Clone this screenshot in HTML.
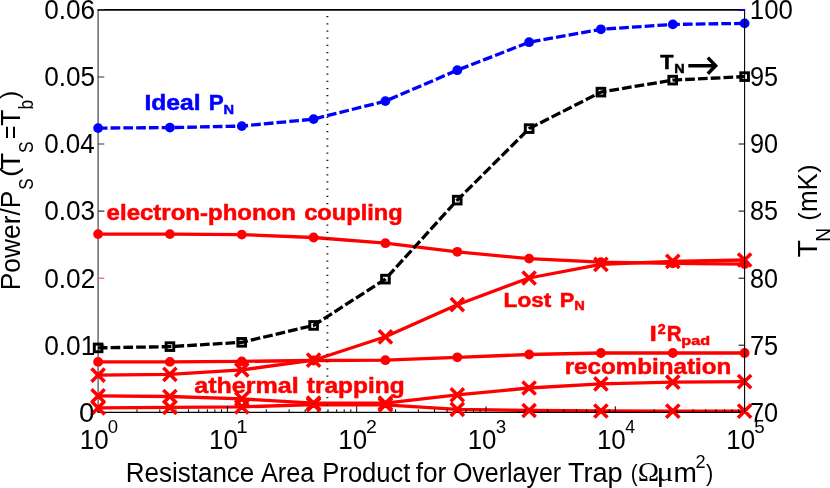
<!DOCTYPE html>
<html><head><meta charset="utf-8"><title>chart</title>
<style>html,body{margin:0;padding:0;background:#fff;overflow:hidden}svg{display:block;will-change:transform}text{font-family:"Liberation Sans",sans-serif}</style>
</head><body>
<svg width="830" height="488" viewBox="0 0 830 488">
<rect width="830" height="488" fill="#fff"/>
<polyline points="98.1,128.1 169.9,127.6 241.8,126.1 313.6,119.1 385.4,101.1 457.3,70.2 529.1,42.2 600.9,29.3 672.8,24.4 744.6,23.4" fill="none" stroke="#0000ff" stroke-width="3.3" stroke-linejoin="round" stroke-dasharray="9.7 3.08" stroke-dashoffset="0.3"/>
<polyline points="98.1,234.1 169.9,234.1 241.8,234.6 313.6,237.5 385.4,243.2 457.3,251.8 529.1,258.6 600.9,262.2 672.8,263.3 744.6,264.1" fill="none" stroke="#ff0000" stroke-width="3.3" stroke-linejoin="round"/>
<polyline points="98.1,361.9 169.9,361.9 241.8,361.4 313.6,360.5 385.4,360.2 457.3,357.3 529.1,354.5 600.9,353.0 672.8,353.0 744.6,353.0" fill="none" stroke="#ff0000" stroke-width="3.3" stroke-linejoin="round"/>
<polyline points="98.1,395.8 169.9,396.5 241.8,398.9 313.6,403.2 385.4,403.1 457.3,394.8 529.1,388.0 600.9,383.8 672.8,382.2 744.6,381.7" fill="none" stroke="#ff0000" stroke-width="3.3" stroke-linejoin="round"/>
<polyline points="98.1,407.9 169.9,407.4 241.8,406.9 313.6,404.6 385.4,404.9 457.3,409.3 529.1,410.5 600.9,411.0 672.8,411.1 744.6,411.1" fill="none" stroke="#ff0000" stroke-width="3.3" stroke-linejoin="round"/>
<polyline points="98.1,375.2 169.9,374.3 241.8,369.9 313.6,360.2 385.4,336.8 457.3,304.7 529.1,278.0 600.9,264.4 672.8,261.3 744.6,260.0" fill="none" stroke="#ff0000" stroke-width="3.3" stroke-linejoin="round"/>
<line x1="98.1" y1="9.9" x2="98.1" y2="412.3" stroke="#606060" stroke-width="1.4"/>
<line x1="97.5" y1="9.9" x2="745.1" y2="9.9" stroke="#000" stroke-width="1.8"/>
<line x1="97.5" y1="412.3" x2="745.1" y2="412.3" stroke="#000" stroke-width="1.2"/>
<path d="M98.1,412.3V406.3M137.0,412.3V409.3M159.8,412.3V409.3M175.9,412.3V409.3M188.5,412.3V409.3M198.7,412.3V409.3M207.4,412.3V409.3M214.9,412.3V409.3M221.5,412.3V409.3M227.4,412.3V406.3M266.3,412.3V409.3M289.1,412.3V409.3M305.2,412.3V409.3M317.8,412.3V409.3M328.0,412.3V409.3M336.7,412.3V409.3M344.2,412.3V409.3M350.8,412.3V409.3M356.7,412.3V406.3M395.6,412.3V409.3M418.4,412.3V409.3M434.5,412.3V409.3M447.1,412.3V409.3M457.3,412.3V409.3M466.0,412.3V409.3M473.5,412.3V409.3M480.1,412.3V409.3M486.0,412.3V406.3M524.9,412.3V409.3M547.7,412.3V409.3M563.8,412.3V409.3M576.4,412.3V409.3M586.6,412.3V409.3M595.3,412.3V409.3M602.8,412.3V409.3M609.4,412.3V409.3M615.3,412.3V406.3M654.2,412.3V409.3M677.0,412.3V409.3M693.1,412.3V409.3M705.7,412.3V409.3M715.9,412.3V409.3M724.6,412.3V409.3M732.1,412.3V409.3M738.7,412.3V409.3M744.6,412.3V406.3" stroke="#000" stroke-width="1" fill="none"/>
<path d="M98.1,412.3h6.2M98.1,345.2h6.2M98.1,211.1h6.2M98.1,144.0h6.2M98.1,77.0h6.2M98.1,9.9h6.2" stroke="#333" stroke-width="1.1" fill="none"/>
<path d="M98.69999999999999,278.2h5.6" stroke="#ff4040" stroke-width="1.1" fill="none"/>
<path d="M744.6,412.3h-6M744.6,345.2h-6M744.6,278.2h-6M744.6,211.1h-6M744.6,144.0h-6M744.6,77.0h-6M744.6,9.9h-6" stroke="#000" stroke-width="1" fill="none"/>
<line x1="327.4" y1="9.9" x2="327.4" y2="412.3" stroke="#1a1a1a" stroke-width="1.9" stroke-dasharray="1.25 5.937" stroke-dashoffset="-6.15"/>
<circle cx="98.1" cy="128.1" r="4.9" fill="#0000ff"/>
<circle cx="169.9" cy="127.6" r="4.9" fill="#0000ff"/>
<circle cx="241.8" cy="126.1" r="4.9" fill="#0000ff"/>
<circle cx="313.6" cy="119.1" r="4.9" fill="#0000ff"/>
<circle cx="385.4" cy="101.1" r="4.9" fill="#0000ff"/>
<circle cx="457.3" cy="70.2" r="4.9" fill="#0000ff"/>
<circle cx="529.1" cy="42.2" r="4.9" fill="#0000ff"/>
<circle cx="600.9" cy="29.3" r="4.9" fill="#0000ff"/>
<circle cx="672.8" cy="24.4" r="4.9" fill="#0000ff"/>
<circle cx="744.6" cy="23.4" r="4.9" fill="#0000ff"/>
<circle cx="98.1" cy="234.1" r="4.9" fill="#ff0000"/>
<circle cx="169.9" cy="234.1" r="4.9" fill="#ff0000"/>
<circle cx="241.8" cy="234.6" r="4.9" fill="#ff0000"/>
<circle cx="313.6" cy="237.5" r="4.9" fill="#ff0000"/>
<circle cx="385.4" cy="243.2" r="4.9" fill="#ff0000"/>
<circle cx="457.3" cy="251.8" r="4.9" fill="#ff0000"/>
<circle cx="529.1" cy="258.6" r="4.9" fill="#ff0000"/>
<circle cx="600.9" cy="262.2" r="4.9" fill="#ff0000"/>
<circle cx="672.8" cy="263.3" r="4.9" fill="#ff0000"/>
<circle cx="744.6" cy="264.1" r="4.9" fill="#ff0000"/>
<circle cx="98.1" cy="361.9" r="4.9" fill="#ff0000"/>
<circle cx="169.9" cy="361.9" r="4.9" fill="#ff0000"/>
<circle cx="241.8" cy="361.4" r="4.9" fill="#ff0000"/>
<circle cx="313.6" cy="360.5" r="4.9" fill="#ff0000"/>
<circle cx="385.4" cy="360.2" r="4.9" fill="#ff0000"/>
<circle cx="457.3" cy="357.3" r="4.9" fill="#ff0000"/>
<circle cx="529.1" cy="354.5" r="4.9" fill="#ff0000"/>
<circle cx="600.9" cy="353.0" r="4.9" fill="#ff0000"/>
<circle cx="672.8" cy="353.0" r="4.9" fill="#ff0000"/>
<circle cx="744.6" cy="353.0" r="4.9" fill="#ff0000"/>
<path d="M91.5,389.2L104.7,402.4M91.5,402.4L104.7,389.2M163.3,389.9L176.5,403.1M163.3,403.1L176.5,389.9M235.2,392.3L248.4,405.5M235.2,405.5L248.4,392.3M307.0,396.6L320.2,409.8M307.0,409.8L320.2,396.6M378.8,396.5L392.0,409.7M378.8,409.7L392.0,396.5M450.7,388.2L463.9,401.4M450.7,401.4L463.9,388.2M522.5,381.4L535.7,394.6M522.5,394.6L535.7,381.4M594.3,377.2L607.5,390.4M594.3,390.4L607.5,377.2M666.2,375.6L679.4,388.8M666.2,388.8L679.4,375.6M738.0,375.1L751.2,388.3M738.0,388.3L751.2,375.1" stroke="#ff0000" stroke-width="3.5" fill="none"/>
<path d="M91.5,401.3L104.7,414.5M91.5,414.5L104.7,401.3M163.3,400.8L176.5,414.0M163.3,414.0L176.5,400.8M235.2,400.3L248.4,413.5M235.2,413.5L248.4,400.3M307.0,398.0L320.2,411.2M307.0,411.2L320.2,398.0M378.8,398.3L392.0,411.5M378.8,411.5L392.0,398.3M450.7,402.7L463.9,415.9M450.7,415.9L463.9,402.7M522.5,403.9L535.7,417.1M522.5,417.1L535.7,403.9M594.3,404.4L607.5,417.6M594.3,417.6L607.5,404.4M666.2,404.5L679.4,417.7M666.2,417.7L679.4,404.5M738.0,404.5L751.2,417.7M738.0,417.7L751.2,404.5" stroke="#ff0000" stroke-width="3.5" fill="none"/>
<path d="M91.5,368.6L104.7,381.8M91.5,381.8L104.7,368.6M163.3,367.7L176.5,380.9M163.3,380.9L176.5,367.7M235.2,363.3L248.4,376.5M235.2,376.5L248.4,363.3M307.0,353.6L320.2,366.8M307.0,366.8L320.2,353.6M378.8,330.2L392.0,343.4M378.8,343.4L392.0,330.2M450.7,298.1L463.9,311.3M450.7,311.3L463.9,298.1M522.5,271.4L535.7,284.6M522.5,284.6L535.7,271.4M594.3,257.8L607.5,271.0M594.3,271.0L607.5,257.8M666.2,254.7L679.4,267.9M666.2,267.9L679.4,254.7M738.0,253.4L751.2,266.6M738.0,266.6L751.2,253.4" stroke="#ff0000" stroke-width="3.5" fill="none"/>
<polyline points="98.1,347.9 169.9,346.6 241.8,342.3 313.6,325.4 385.4,279.1 457.3,200.1 529.1,128.6 600.9,92.1 672.8,80.1 744.6,76.6" fill="none" stroke="#000000" stroke-width="3.3" stroke-linejoin="round" stroke-dasharray="9.7 3.08" stroke-dashoffset="0.3"/>
<line x1="744.6" y1="9.9" x2="744.6" y2="412.3" stroke="#000" stroke-width="1.1"/>
<line x1="738.1" y1="9.9" x2="745.1" y2="9.9" stroke="#0000d0" stroke-width="1.8"/>
<rect x="94.3" y="344.1" width="7.65" height="7.65" fill="none" stroke="#000000" stroke-width="2.95"/>
<rect x="166.1" y="342.8" width="7.65" height="7.65" fill="none" stroke="#000000" stroke-width="2.95"/>
<rect x="237.9" y="338.5" width="7.65" height="7.65" fill="none" stroke="#000000" stroke-width="2.95"/>
<rect x="309.8" y="321.6" width="7.65" height="7.65" fill="none" stroke="#000000" stroke-width="2.95"/>
<rect x="381.6" y="275.3" width="7.65" height="7.65" fill="none" stroke="#000000" stroke-width="2.95"/>
<rect x="453.4" y="196.3" width="7.65" height="7.65" fill="none" stroke="#000000" stroke-width="2.95"/>
<rect x="525.3" y="124.8" width="7.65" height="7.65" fill="none" stroke="#000000" stroke-width="2.95"/>
<rect x="597.1" y="88.3" width="7.65" height="7.65" fill="none" stroke="#000000" stroke-width="2.95"/>
<rect x="668.9" y="76.3" width="7.65" height="7.65" fill="none" stroke="#000000" stroke-width="2.95"/>
<rect x="740.8" y="72.8" width="7.65" height="7.65" fill="none" stroke="#000000" stroke-width="2.95"/>
<text x="79.12" y="421.9" font-size="27" fill="#000" textLength="15.36" lengthAdjust="spacingAndGlyphs">0</text>
<text x="44.17" y="354.5" font-size="27" fill="#000" textLength="51.11" lengthAdjust="spacingAndGlyphs">0.01</text>
<text x="44.17" y="287.5" font-size="27" fill="#000" textLength="51.15" lengthAdjust="spacingAndGlyphs">0.02</text>
<text x="44.18" y="220.4" font-size="27" fill="#000" textLength="50.97" lengthAdjust="spacingAndGlyphs">0.03</text>
<text x="44.18" y="153.3" font-size="27" fill="#000" textLength="50.58" lengthAdjust="spacingAndGlyphs">0.04</text>
<text x="44.18" y="86.3" font-size="27" fill="#000" textLength="50.92" lengthAdjust="spacingAndGlyphs">0.05</text>
<text x="44.18" y="19.2" font-size="27" fill="#000" textLength="50.97" lengthAdjust="spacingAndGlyphs">0.06</text>
<text x="749.90" y="421.6" font-size="27" fill="#000" textLength="28.19" lengthAdjust="spacingAndGlyphs">70</text>
<text x="749.90" y="354.5" font-size="27" fill="#000" textLength="28.27" lengthAdjust="spacingAndGlyphs">75</text>
<text x="750.11" y="287.5" font-size="27" fill="#000" textLength="27.98" lengthAdjust="spacingAndGlyphs">80</text>
<text x="750.10" y="220.4" font-size="27" fill="#000" textLength="28.06" lengthAdjust="spacingAndGlyphs">85</text>
<text x="750.02" y="153.3" font-size="27" fill="#000" textLength="28.07" lengthAdjust="spacingAndGlyphs">90</text>
<text x="750.01" y="86.3" font-size="27" fill="#000" textLength="28.15" lengthAdjust="spacingAndGlyphs">95</text>
<text x="749.83" y="19.2" font-size="27" fill="#000" textLength="43.08" lengthAdjust="spacingAndGlyphs">100</text>
<text x="79.73" y="448.6" font-size="26.8" fill="#000" textLength="28.84" lengthAdjust="spacingAndGlyphs">10</text>
<text x="107.77" y="433.1" font-size="18.3" fill="#000" textLength="10.35" lengthAdjust="spacingAndGlyphs">0</text>
<text x="209.03" y="448.6" font-size="26.8" fill="#000" textLength="28.84" lengthAdjust="spacingAndGlyphs">10</text>
<text x="236.23" y="433.1" font-size="18.3" fill="#000" textLength="11.48" lengthAdjust="spacingAndGlyphs">1</text>
<text x="338.33" y="448.6" font-size="26.8" fill="#000" textLength="28.84" lengthAdjust="spacingAndGlyphs">10</text>
<text x="366.12" y="433.1" font-size="18.3" fill="#000" textLength="10.87" lengthAdjust="spacingAndGlyphs">2</text>
<text x="467.63" y="448.6" font-size="26.8" fill="#000" textLength="28.84" lengthAdjust="spacingAndGlyphs">10</text>
<text x="495.69" y="433.1" font-size="18.3" fill="#000" textLength="10.44" lengthAdjust="spacingAndGlyphs">3</text>
<text x="596.93" y="448.6" font-size="26.8" fill="#000" textLength="28.84" lengthAdjust="spacingAndGlyphs">10</text>
<text x="625.29" y="433.1" font-size="18.3" fill="#000" textLength="9.82" lengthAdjust="spacingAndGlyphs">4</text>
<text x="726.23" y="448.6" font-size="26.8" fill="#000" textLength="28.84" lengthAdjust="spacingAndGlyphs">10</text>
<text x="754.25" y="433.1" font-size="18.3" fill="#000" textLength="10.44" lengthAdjust="spacingAndGlyphs">5</text>
<text x="125.67" y="481.6" font-size="27" fill="#000" textLength="128.69" lengthAdjust="spacingAndGlyphs">Resistance</text>
<text x="260.95" y="481.6" font-size="27" fill="#000" textLength="53.35" lengthAdjust="spacingAndGlyphs">Area</text>
<text x="322.30" y="481.6" font-size="27" fill="#000" textLength="88.19" lengthAdjust="spacingAndGlyphs">Product</text>
<text x="415.63" y="481.6" font-size="27" fill="#000" textLength="30.61" lengthAdjust="spacingAndGlyphs">for</text>
<text x="452.92" y="481.6" font-size="27" fill="#000" textLength="108.20" lengthAdjust="spacingAndGlyphs">Overlayer</text>
<text x="567.90" y="481.6" font-size="27" fill="#000" textLength="54.82" lengthAdjust="spacingAndGlyphs">Trap</text>
<text x="630.81" y="480.7" font-size="23.8" fill="#000" textLength="6.91" lengthAdjust="spacingAndGlyphs">(</text>
<text x="637.71" y="480.6" font-size="27.4" fill="#000" style="font-family:'Liberation Serif',serif" textLength="21.38" lengthAdjust="spacingAndGlyphs">Ω</text>
<text x="656.62" y="481.2" font-size="27.6" fill="#000" style="font-family:'Liberation Serif',serif" textLength="17.09" lengthAdjust="spacingAndGlyphs">μ</text>
<text x="673.63" y="481.6" font-size="27" fill="#000" textLength="23.42" lengthAdjust="spacingAndGlyphs">m</text>
<text x="695.38" y="468.2" font-size="18.3" fill="#000" textLength="10.13" lengthAdjust="spacingAndGlyphs">2</text>
<text x="706.07" y="480.7" font-size="23.8" fill="#000" textLength="7.28" lengthAdjust="spacingAndGlyphs">)</text>
<text transform="translate(19.6,288.1) rotate(-90)" x="-2.16" y="0" font-size="27" fill="#000" textLength="99.55" lengthAdjust="spacingAndGlyphs">Power/P</text>
<text transform="translate(32.5,189.0) rotate(-90)" x="-0.77" y="0" font-size="20.5" fill="#000" textLength="11.35" lengthAdjust="spacingAndGlyphs">S</text>
<text transform="translate(17.9,175.3) rotate(-90)" x="-1.73" y="0" font-size="24.4" fill="#000" textLength="9.29" lengthAdjust="spacingAndGlyphs">(</text>
<text transform="translate(19.6,168.9) rotate(-90)" x="-0.62" y="0" font-size="27" fill="#000" textLength="16.74" lengthAdjust="spacingAndGlyphs">T</text>
<text transform="translate(32.5,152.3) rotate(-90)" x="-0.79" y="0" font-size="20.5" fill="#000" textLength="11.59" lengthAdjust="spacingAndGlyphs">S</text>
<text transform="translate(19.6,138.2) rotate(-90)" x="-1.15" y="0" font-size="27" fill="#000" textLength="13.70" lengthAdjust="spacingAndGlyphs">=</text>
<text transform="translate(19.6,125.2) rotate(-90)" x="-0.59" y="0" font-size="27" fill="#000" textLength="15.99" lengthAdjust="spacingAndGlyphs">T</text>
<text transform="translate(32.5,108.4) rotate(-90)" x="-1.12" y="0" font-size="20.5" fill="#000" textLength="9.65" lengthAdjust="spacingAndGlyphs">b</text>
<text transform="translate(17.9,98.9) rotate(-90)" x="-0.14" y="0" font-size="24.4" fill="#000" textLength="8.16" lengthAdjust="spacingAndGlyphs">)</text>
<text transform="translate(816.9,257.0) rotate(-90)" x="-0.64" y="0" font-size="27" fill="#000" textLength="17.39" lengthAdjust="spacingAndGlyphs">T</text>
<text transform="translate(830.3,240.1) rotate(-90)" x="-1.57" y="0" font-size="20.5" fill="#000" textLength="13.83" lengthAdjust="spacingAndGlyphs">N</text>
<text transform="translate(815.6,219.3) rotate(-90)" x="-1.54" y="0" font-size="24.4" fill="#000" textLength="8.29" lengthAdjust="spacingAndGlyphs">(</text>
<text transform="translate(817.2,210.4) rotate(-90)" x="-1.73" y="0" font-size="27" fill="#000" textLength="39.13" lengthAdjust="spacingAndGlyphs">mK</text>
<text transform="translate(815.6,172.7) rotate(-90)" x="-0.15" y="0" font-size="24.4" fill="#000" textLength="8.42" lengthAdjust="spacingAndGlyphs">)</text>
<text x="144.40" y="110.1" font-size="21.3" font-weight="bold" fill="#0000ff" stroke="#0000ff" stroke-width="0.5" textLength="56.09" lengthAdjust="spacingAndGlyphs">Ideal</text>
<text x="208.65" y="110.1" font-size="21.3" font-weight="bold" fill="#0000ff" stroke="#0000ff" stroke-width="0.5" textLength="14.97" lengthAdjust="spacingAndGlyphs">P</text>
<text x="223.57" y="114.3" font-size="13.3" font-weight="bold" fill="#0000ff" stroke="#0000ff" stroke-width="0.5" textLength="10.56" lengthAdjust="spacingAndGlyphs">N</text>
<text x="106.61" y="220.4" font-size="21.3" font-weight="bold" fill="#ff0000" stroke="#ff0000" stroke-width="0.5" textLength="189.33" lengthAdjust="spacingAndGlyphs">electron-phonon</text>
<text x="304.23" y="220.4" font-size="21.3" font-weight="bold" fill="#ff0000" stroke="#ff0000" stroke-width="0.5" textLength="98.40" lengthAdjust="spacingAndGlyphs">coupling</text>
<text x="503.64" y="306.5" font-size="20.9" font-weight="bold" fill="#ff0000" stroke="#ff0000" stroke-width="0.5" textLength="47.79" lengthAdjust="spacingAndGlyphs">Lost</text>
<text x="559.78" y="306.5" font-size="20.9" font-weight="bold" fill="#ff0000" stroke="#ff0000" stroke-width="0.5" textLength="14.61" lengthAdjust="spacingAndGlyphs">P</text>
<text x="574.37" y="310.1" font-size="13.3" font-weight="bold" fill="#ff0000" stroke="#ff0000" stroke-width="0.5" textLength="10.56" lengthAdjust="spacingAndGlyphs">N</text>
<text x="649.59" y="341.3" font-size="21.3" font-weight="bold" fill="#ff0000" stroke="#ff0000" stroke-width="0.5" textLength="7.33" lengthAdjust="spacingAndGlyphs">I</text>
<text x="657.85" y="333.7" font-size="14.5" font-weight="bold" fill="#ff0000" stroke="#ff0000" stroke-width="0.5" textLength="7.97" lengthAdjust="spacingAndGlyphs">2</text>
<text x="666.87" y="341.3" font-size="21.3" font-weight="bold" fill="#ff0000" stroke="#ff0000" stroke-width="0.5" textLength="14.90" lengthAdjust="spacingAndGlyphs">R</text>
<text x="681.38" y="345.1" font-size="13.3" font-weight="bold" fill="#ff0000" stroke="#ff0000" stroke-width="0.5" textLength="28.73" lengthAdjust="spacingAndGlyphs">pad</text>
<text x="564.66" y="373.9" font-size="21.3" font-weight="bold" fill="#ff0000" stroke="#ff0000" stroke-width="0.5" textLength="166.70" lengthAdjust="spacingAndGlyphs">recombination</text>
<text x="194.22" y="392.7" font-size="21.3" font-weight="bold" fill="#ff0000" stroke="#ff0000" stroke-width="0.5" textLength="104.51" lengthAdjust="spacingAndGlyphs">athermal</text>
<text x="306.85" y="392.7" font-size="21.3" font-weight="bold" fill="#ff0000" stroke="#ff0000" stroke-width="0.5" textLength="97.83" lengthAdjust="spacingAndGlyphs">trapping</text>
<text x="660.21" y="69.1" font-size="20.5" font-weight="bold" fill="#000000" stroke="#000000" stroke-width="0.5" textLength="13.28" lengthAdjust="spacingAndGlyphs">T</text>
<text x="674.38" y="73.0" font-size="13.3" font-weight="bold" fill="#000000" stroke="#000000" stroke-width="0.5" textLength="10.44" lengthAdjust="spacingAndGlyphs">N</text>
<path d="M688.3,65.7H715.5M707.8,57.6L715.6,65.7L707.8,73.8" stroke="#000" stroke-width="3.5" fill="none" stroke-linejoin="miter"/>
</svg>
</body></html>
